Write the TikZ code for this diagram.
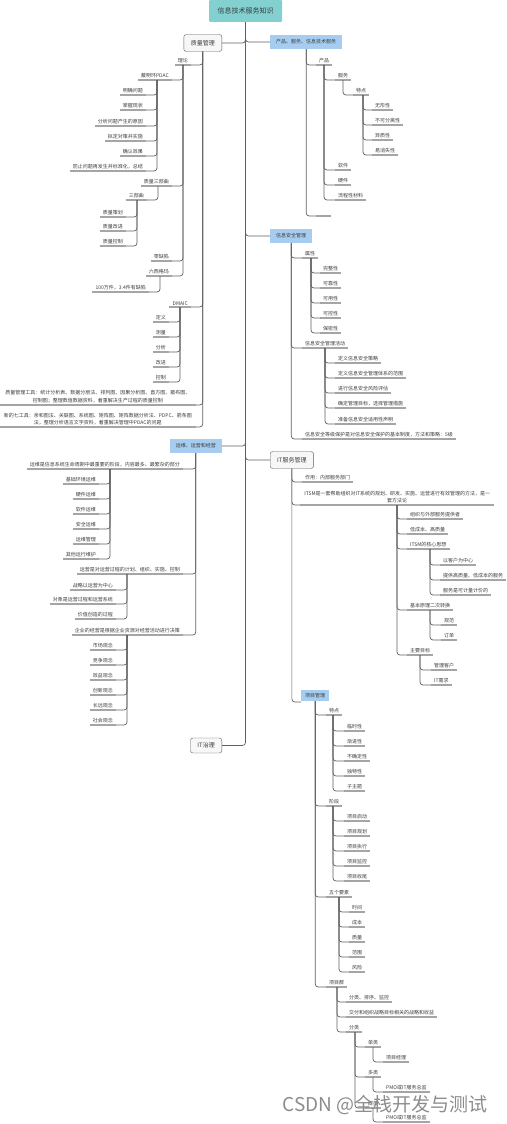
\documentclass[tikz,border=0pt]{standalone}
\usepackage{fontspec}
\setmainfont{Noto Sans CJK SC}

\definecolor{rootc}{RGB}{130,208,208}
\definecolor{boxc}{RGB}{166,205,240}
\definecolor{txtc}{RGB}{60,60,60}
\definecolor{lnc}{RGB}{95,95,95}
\definecolor{ulc}{RGB}{165,165,165}

\tikzset{
  conn/.style={draw=lnc, line width=0.7pt, rounded corners=3pt},
  uline/.style={draw=ulc, line width=1.1pt},
  leaf/.style={font=\fontsize{5}{7.5}\selectfont, text=txtc, inner xsep=3pt, inner ysep=1.6pt,
    append after command={\pgfextra{\draw[uline] (\tikzlastnode.south west) -- (\tikzlastnode.south east);}}},
  rleaf/.style={leaf, anchor=south west},
  lleaf/.style={leaf, anchor=south east},
  rootbox/.style={fill=rootc, text=txtc, font=\fontsize{7}{8}\selectfont, minimum width=73pt, minimum height=22pt, rounded corners=1pt},
  bluebox/.style={fill=boxc, text=txtc, font=\fontsize{5}{6}\selectfont, inner xsep=6pt, minimum height=14pt},
  whitebox/.style={draw=lnc, fill=black!3, text=txtc, font=\fontsize{6}{7}\selectfont, inner xsep=7pt, minimum height=17pt, rounded corners=2.5pt},
}

\begin{document}
\begin{tikzpicture}[x=1pt, y=-1pt]
  \useasboundingbox (0,0) rectangle (506,1124);

  % 根节点
  \node[rootbox] (root) at (245.5,11) {信息技术服务知识};

  % 一级主题
  \node[whitebox, anchor=east] (zlgl) at (222,43) {质量管理};
  \node[bluebox, anchor=west] (cpfw) at (270,42) {产品、服务、信息技术服务};
  \node[bluebox, anchor=west] (xxaq) at (270,236) {信息安全管理};
  \node[bluebox, anchor=east] (yw) at (222,446) {运维、运营和经营};
  \node[whitebox, anchor=west] (itsm) at (270,460) {IT服务管理};
  \node[whitebox, anchor=east, minimum height=15pt] (itzl) at (222,745.5) {IT治理};

  \foreach \b in {zlgl,yw,itzl} \draw[conn] (root.south) |- (\b.east);
  \foreach \b in {cpfw,xxaq,itsm} \draw[conn] (root.south) |- (\b.west);

  % ---------------- 质量管理 ----------------
  \node[lleaf] (lilun) at (191,65) {理论};
  \node[lleaf] (dmaic) at (191,307) {DMAIC};
  \node[lleaf, text width=190pt, align=center] (gongju) at (196,405)
    {质量管理工具：统计分析表、数据分层法、排列图、因果分析图、直方图、散布图、\\控制图；整理数值数据资料，着重解决生产过程的质量控制};
  \node[lleaf, text width=190pt, align=center] (xingong) at (196,427)
    {新的七工具：亲和图法、关联图、系统图、矩阵图、矩阵数据分析法、PDPC、箭条图\\法，整理分析语言文字资料，着重解决管理中PDAC的问题};
  \foreach \c in {lilun,dmaic,gongju,xingong} \draw[conn] (zlgl.south) |- (\c.south east);

  \coordinate (lilunT) at (183,65);
  \node[lleaf] (deming) at (172,80) {戴明环PDAC};
  \node[lleaf] (sanbuqu0) at (172,186) {质量三部曲};
  \node[lleaf] (lingquexian) at (172,261) {零缺陷};
  \node[lleaf] (sigma) at (172,276) {六西格玛};
  \foreach \c in {deming,sanbuqu0,lingquexian,sigma} \draw[conn] (lilunT) |- (\c.south east);

  \coordinate (demingT) at (157,80);
  \node[lleaf] (d1) at (146,95) {明确问题};
  \node[lleaf] (d2) at (146,110) {掌握现状};
  \node[lleaf] (d3) at (146,126) {分析问题产生的原因};
  \node[lleaf] (d4) at (146,141) {拟定对策并实施};
  \node[lleaf] (d5) at (146,156) {确认效果};
  \node[lleaf] (d6) at (146,171) {防止问题再发生并标准化，总结};
  \foreach \c in {d1,d2,d3,d4,d5,d6} \draw[conn] (demingT) |- (\c.south east);

  \coordinate (sbqT) at (158,186);
  \node[lleaf] (sanbuqu) at (147,200) {三部曲};
  \draw[conn] (sbqT) |- (sanbuqu.south east);
  \coordinate (sanbuquT) at (137,200);
  \node[lleaf] (s1) at (126,217) {质量策划};
  \node[lleaf] (s2) at (126,231) {质量改进};
  \node[lleaf] (s3) at (126,246) {质量控制};
  \foreach \c in {s1,s2,s3} \draw[conn] (sanbuquT) |- (\c.south east);

  \coordinate (sigmaT) at (160,276);
  \node[lleaf] (quexian) at (149,292) {100万件，3.4件有缺陷};
  \draw[conn] (sigmaT) |- (quexian.south east);

  \coordinate (dmaicT) at (180,307);
  \node[lleaf] (m1) at (169,322) {定义};
  \node[lleaf] (m2) at (169,337) {测量};
  \node[lleaf] (m3) at (169,352) {分析};
  \node[lleaf] (m4) at (169,367) {改进};
  \node[lleaf] (m5) at (169,382) {控制};
  \foreach \c in {m1,m2,m3,m4,m5} \draw[conn] (dmaicT) |- (\c.south east);

  % ---------------- 产品、服务、信息技术服务 ----------------
  \node[rleaf] (chanpin) at (316,65) {产品};
  \node[rleaf, minimum width=15pt] (kong) at (316,216) {};
  \foreach \c in {chanpin,kong} \draw[conn] (cpfw.south) |- (\c.south west);

  \coordinate (chanpinT) at (324,65);
  \node[rleaf] (fuwu) at (335,80) {服务};
  \node[rleaf] (ruanjian) at (335,170) {软件};
  \node[rleaf] (yingjian) at (335,185) {硬件};
  \node[rleaf] (liucheng) at (335,200) {流程性材料};
  \foreach \c in {fuwu,ruanjian,yingjian,liucheng} \draw[conn] (chanpinT) |- (\c.south west);

  \coordinate (fuwuT) at (343,80);
  \node[rleaf] (tedian) at (353,95) {特点};
  \draw[conn] (fuwuT) |- (tedian.south west);
  \coordinate (tedianT) at (363,95);
  \node[rleaf] (t1) at (372,110) {无形性};
  \node[rleaf] (t2) at (372,125) {不可分离性};
  \node[rleaf] (t3) at (372,140) {异质性};
  \node[rleaf] (t4) at (372,155) {易消失性};
  \foreach \c in {t1,t2,t3,t4} \draw[conn] (tedianT) |- (\c.south west);

  % ---------------- 信息安全管理 ----------------
  \node[rleaf] (shuxing) at (302,258) {属性};
  \node[rleaf] (huodong) at (302,348) {信息安全管理活动};
  \node[rleaf] (dengji) at (302,439) {信息安全等级保护是对信息安全保护的基本制度，方法和策略：5级};
  \foreach \c in {shuxing,huodong,dengji} \draw[conn] (xxaq.south) |- (\c.south west);

  \coordinate (shuxingT) at (311,258);
  \node[rleaf] (a1) at (320,273) {完整性};
  \node[rleaf] (a2) at (320,288) {可靠性};
  \node[rleaf] (a3) at (320,303) {可用性};
  \node[rleaf] (a4) at (320,318) {可控性};
  \node[rleaf] (a5) at (320,333) {保密性};
  \foreach \c in {a1,a2,a3,a4,a5} \draw[conn] (shuxingT) |- (\c.south west);

  \coordinate (huodongT) at (325,348);
  \node[rleaf] (h1) at (335,363) {定义信息安全策略};
  \node[rleaf] (h2) at (335,378) {定义信息安全管理体系的范围};
  \node[rleaf] (h3) at (335,393) {进行信息安全风险评估};
  \node[rleaf] (h4) at (335,408) {确定管理目标，选择管理措施};
  \node[rleaf] (h5) at (335,424) {准备信息安全适用性声明};
  \foreach \c in {h1,h2,h3,h4,h5} \draw[conn] (huodongT) |- (\c.south west);

  % ---------------- 运维、运营和经营 ----------------
  \node[lleaf] (yunwei) at (183,469) {运维是信息系统生命周期中最重要的阶段，内容最多、最繁杂的部分};
  \node[lleaf] (yunying) at (183,574) {运营是对运营过程的计划、组织、实施、控制};
  \node[lleaf] (jingying) at (183,635) {企业的经营是根据企业资源对经营活动进行决策};
  \foreach \c in {yunwei,yunying,jingying} \draw[conn] (yw.south) |- (\c.south east);

  \coordinate (yunweiT) at (110,469);
  \node[lleaf] (w1) at (99,484) {基础环境运维};
  \node[lleaf] (w2) at (99,499) {硬件运维};
  \node[lleaf] (w3) at (99,514) {软件运维};
  \node[lleaf] (w4) at (99,529) {安全运维};
  \node[lleaf] (w5) at (99,544) {运维管理};
  \node[lleaf] (w6) at (99,559) {其他运行维护};
  \foreach \c in {w1,w2,w3,w4,w5,w6} \draw[conn] (yunweiT) |- (\c.south east);

  \coordinate (yunyingT) at (127,574);
  \node[lleaf] (y1) at (116,590) {战略以运营为中心};
  \node[lleaf] (y2) at (116,604) {对象是运营过程和运营系统};
  \node[lleaf] (y3) at (116,619) {价值创造的过程};
  \foreach \c in {y1,y2,y3} \draw[conn] (yunyingT) |- (\c.south east);

  \coordinate (jingyingT) at (127,635);
  \node[lleaf] (j1) at (116,650) {市场观念};
  \node[lleaf] (j2) at (116,665) {竞争观念};
  \node[lleaf] (j3) at (116,680) {效益观念};
  \node[lleaf] (j4) at (116,695) {创新观念};
  \node[lleaf] (j5) at (116,710) {长远观念};
  \node[lleaf] (j6) at (116,725) {社会观念};
  \foreach \c in {j1,j2,j3,j4,j5,j6} \draw[conn] (jingyingT) |- (\c.south east);

  % ---------------- IT服务管理 ----------------
  \node[rleaf] (zuoyong) at (302,482) {作用：内部服务部门};
  \node[rleaf, text width=188pt, align=center] (itsmdef) at (300,505)
    {ITSM是一套帮助组织对IT系统的规划、研发、实施、运营进行有效管理的方法，是一\\套方法论};
  \node[bluebox, anchor=south west, minimum height=11pt, inner xsep=4pt] (xmgl) at (301,701) {项目管理};
  \foreach \c in {zuoyong,itsmdef} \draw[conn] (itsm.south) |- (\c.south west);
  \draw[conn] (itsm.south) |- ([yshift=-1pt]xmgl.south west);

  \coordinate (itsmdefT) at (397,505);
  \node[rleaf] (i1) at (407,519) {组织与外部服务提供者};
  \node[rleaf] (i2) at (407,534) {低成本、高质量};
  \node[rleaf] (i3) at (407,549) {ITSM的核心思想};
  \node[rleaf] (i4) at (407,610) {基本原理二次转换};
  \node[rleaf] (i5) at (407,655) {主要目标};
  \foreach \c in {i1,i2,i3,i4,i5} \draw[conn] (itsmdefT) |- (\c.south west);

  \coordinate (hexinT) at (430,549);
  \node[rleaf] (k1) at (440,565) {以客户为中心};
  \node[rleaf] (k2) at (440,580) {提供高质量、低成本的服务};
  \node[rleaf] (k3) at (440,595) {服务是可计量计价的};
  \foreach \c in {k1,k2,k3} \draw[conn] (hexinT) |- (\c.south west);

  \coordinate (yuanliT) at (430,610);
  \node[rleaf] (r1) at (441,625) {规范};
  \node[rleaf] (r2) at (441,640) {订单};
  \foreach \c in {r1,r2} \draw[conn] (yuanliT) |- (\c.south west);

  \coordinate (mubiaoT) at (420,655);
  \node[rleaf] (g1) at (431,670) {管理客户};
  \node[rleaf] (g2) at (431,685) {IT需求};
  \foreach \c in {g1,g2} \draw[conn] (mubiaoT) |- (\c.south west);

  % ---------------- 项目管理 ----------------
  \node[rleaf] (xtd) at (326,715) {特点};
  \node[rleaf] (jieduan) at (326,806) {阶段};
  \node[rleaf] (yaosu) at (326,897) {五个要素};
  \node[rleaf] (xmq) at (326,987) {项目群};
  \foreach \c in {xtd,jieduan,yaosu,xmq} \draw[conn] (xmgl.south) |- (\c.south west);

  \coordinate (xtdT) at (333,715);
  \node[rleaf] (p1) at (344,731) {临时性};
  \node[rleaf] (p2) at (344,746) {渐进性};
  \node[rleaf] (p3) at (344,761) {不确定性};
  \node[rleaf] (p4) at (344,776) {独特性};
  \node[rleaf] (p5) at (344,791) {子主题};
  \foreach \c in {p1,p2,p3,p4,p5} \draw[conn] (xtdT) |- (\c.south west);

  \coordinate (jieduanT) at (333,806);
  \node[rleaf] (q1) at (344,821) {项目启动};
  \node[rleaf] (q2) at (344,836) {项目规划};
  \node[rleaf] (q3) at (344,851) {项目执行};
  \node[rleaf] (q4) at (344,866) {项目监控};
  \node[rleaf] (q5) at (344,881) {项目收尾};
  \foreach \c in {q1,q2,q3,q4,q5} \draw[conn] (jieduanT) |- (\c.south west);

  \coordinate (yaosuT) at (339,897);
  \node[rleaf] (e1) at (349,912) {时间};
  \node[rleaf] (e2) at (349,927) {成本};
  \node[rleaf] (e3) at (349,942) {质量};
  \node[rleaf] (e4) at (349,957) {范围};
  \node[rleaf] (e5) at (349,972) {风险};
  \foreach \c in {e1,e2,e3,e4,e5} \draw[conn] (yaosuT) |- (\c.south west);

  \coordinate (xmqT) at (337,987);
  \node[rleaf] (f1) at (346,1002) {分类、排序、监控};
  \node[rleaf] (f2) at (346,1017) {交付和组织战略目标相关的战略和收益};
  \node[rleaf] (fenlei) at (346,1032) {分类};
  \foreach \c in {f1,f2,fenlei} \draw[conn] (xmqT) |- (\c.south west);

  \coordinate (fenleiT) at (355,1032);
  \node[rleaf] (danlei) at (365,1047) {单类};
  \node[rleaf] (duolei) at (365,1077) {多类};
  \node[rleaf] (qunlei) at (365,1108) {群类};
  \foreach \c in {danlei,duolei,qunlei} \draw[conn] (fenleiT) |- (\c.south west);

  \coordinate (danleiT) at (373,1047);
  \node[rleaf] (jingli) at (383,1062) {项目经理};
  \draw[conn] (danleiT) |- (jingli.south west);
  \coordinate (duoleiT) at (373,1077);
  \node[rleaf] (pmo1) at (383,1092) {PMO或IT服务总监};
  \draw[conn] (duoleiT) |- (pmo1.south west);
  \coordinate (qunleiT) at (373,1108);
  \node[rleaf] (pmo2) at (383,1122) {PMO或IT服务总监};
  \draw[conn] (qunleiT) |- (pmo2.south west);

  % 水印
  \node[text=black!45, font=\fontsize{19}{20}\selectfont] (shuiyin) at (385,1105) {CSDN @全栈开发与测试};
\end{tikzpicture}
\end{document}
